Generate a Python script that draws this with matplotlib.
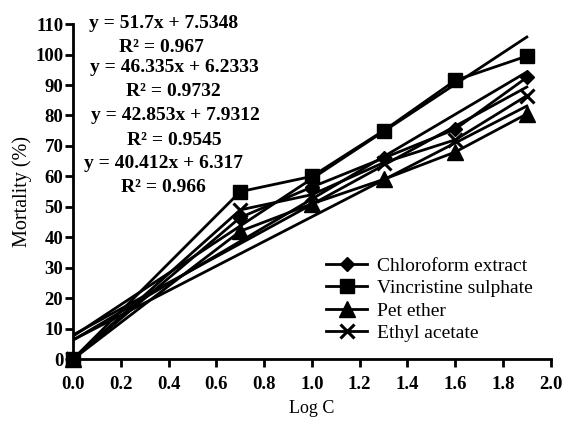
import numpy as np
import matplotlib
matplotlib.use("Agg")
import matplotlib.pyplot as plt

plt.rcParams['font.family'] = ['Liberation Serif', 'DejaVu Serif']

# log concentration
logc = [0.0, 0.7, 1.0, 1.3, 1.6, 1.9]

# mortality (%)
chloroform = [0, 46.5, 56.5, 66, 75.5, 92.5]
vincristine = [0, 55, 60, 75, 91.5, 99.5]
pet_ether = [0, 42, 51, 59, 68, 80.5]
ethyl_acetate = [0, 49, 54, 64.5, 72, 86.5]

series_names = ['Chloroform extract', 'Vincristine sulphate', 'Pet ether', 'Ethyl acetate']
series_markers = ['D', 's', '^', 'x']

# trend lines (as printed on the chart)
slopes = [51.7, 46.335, 42.853, 40.412]
intercepts = [7.5348, 6.2333, 7.9312, 6.317]
r2_values = ['0.967', '0.9732', '0.9545', '0.966']
eq_labels = ['y = 51.7x + 7.5348', 'y = 46.335x + 6.2333',
             'y = 42.853x + 7.9312', 'y = 40.412x + 6.317']

fig = plt.figure(figsize=(5.66, 4.23), dpi=100)
ax = fig.add_axes([0.129, 0.151, 0.844, 0.792])

all_series = [chloroform, vincristine, pet_ether, ethyl_acetate]
sizes = [7.5, 9.5, 11, 10]
for vals, name, mk, ms in zip(all_series, series_names, series_markers, sizes):
    ax.plot(logc, vals, color='black', lw=2, marker=mk, ms=ms,
            mew=2.2 if mk == 'x' else 1, label=name, clip_on=False, zorder=3)

xfit = np.array([0.0, 1.9])
for m, b in zip(slopes, intercepts):
    ax.plot(xfit, m * xfit + b, color='black', lw=2, zorder=2)

# equations in the upper left
eq_pos = [(164, 23), (174, 68), (175, 115), (163, 163)]
r2_pos = [(161, 47), (173, 92), (174, 140), (163, 187)]
for lab, r2, (ex, ey), (rx, ry) in zip(eq_labels, r2_values, eq_pos, r2_pos):
    fig.text(ex / 566, 1 - ey / 423, lab, ha='center', va='center',
             fontsize=14, fontweight='bold')
    fig.text(rx / 566, 1 - ry / 423, 'R² = ' + r2, ha='center', va='center',
             fontsize=14, fontweight='bold')

ax.set_xlim(0, 2.0)
ax.set_ylim(0, 110)
ax.set_xticks(np.arange(0, 2.01, 0.2))
ax.set_yticks(np.arange(0, 111, 10))
ax.set_xticklabels(['%.1f' % v for v in np.arange(0, 2.01, 0.2)])

for s in ['top', 'right']:
    ax.spines[s].set_visible(False)
for s in ['left', 'bottom']:
    ax.spines[s].set_linewidth(2)
ax.tick_params(axis='both', direction='out', length=6, width=2,
               labelsize=13.5)
ax.tick_params(axis='x', pad=6)
ax.tick_params(axis='y', pad=1)
for t in ax.get_xticklabels() + ax.get_yticklabels():
    t.set_fontweight('bold')

ax.set_xlabel('Log C', fontsize=13, labelpad=5)
ax.set_ylabel('Mortality (%)', fontsize=14.5, labelpad=2)

leg = ax.legend(loc='upper left', bbox_to_anchor=(0.53, 0.305), frameon=False,
                fontsize=14, handlelength=2.1, handletextpad=0.5,
                labelspacing=0.25, borderaxespad=0, borderpad=0)

fig.savefig('out.png', dpi=100)
